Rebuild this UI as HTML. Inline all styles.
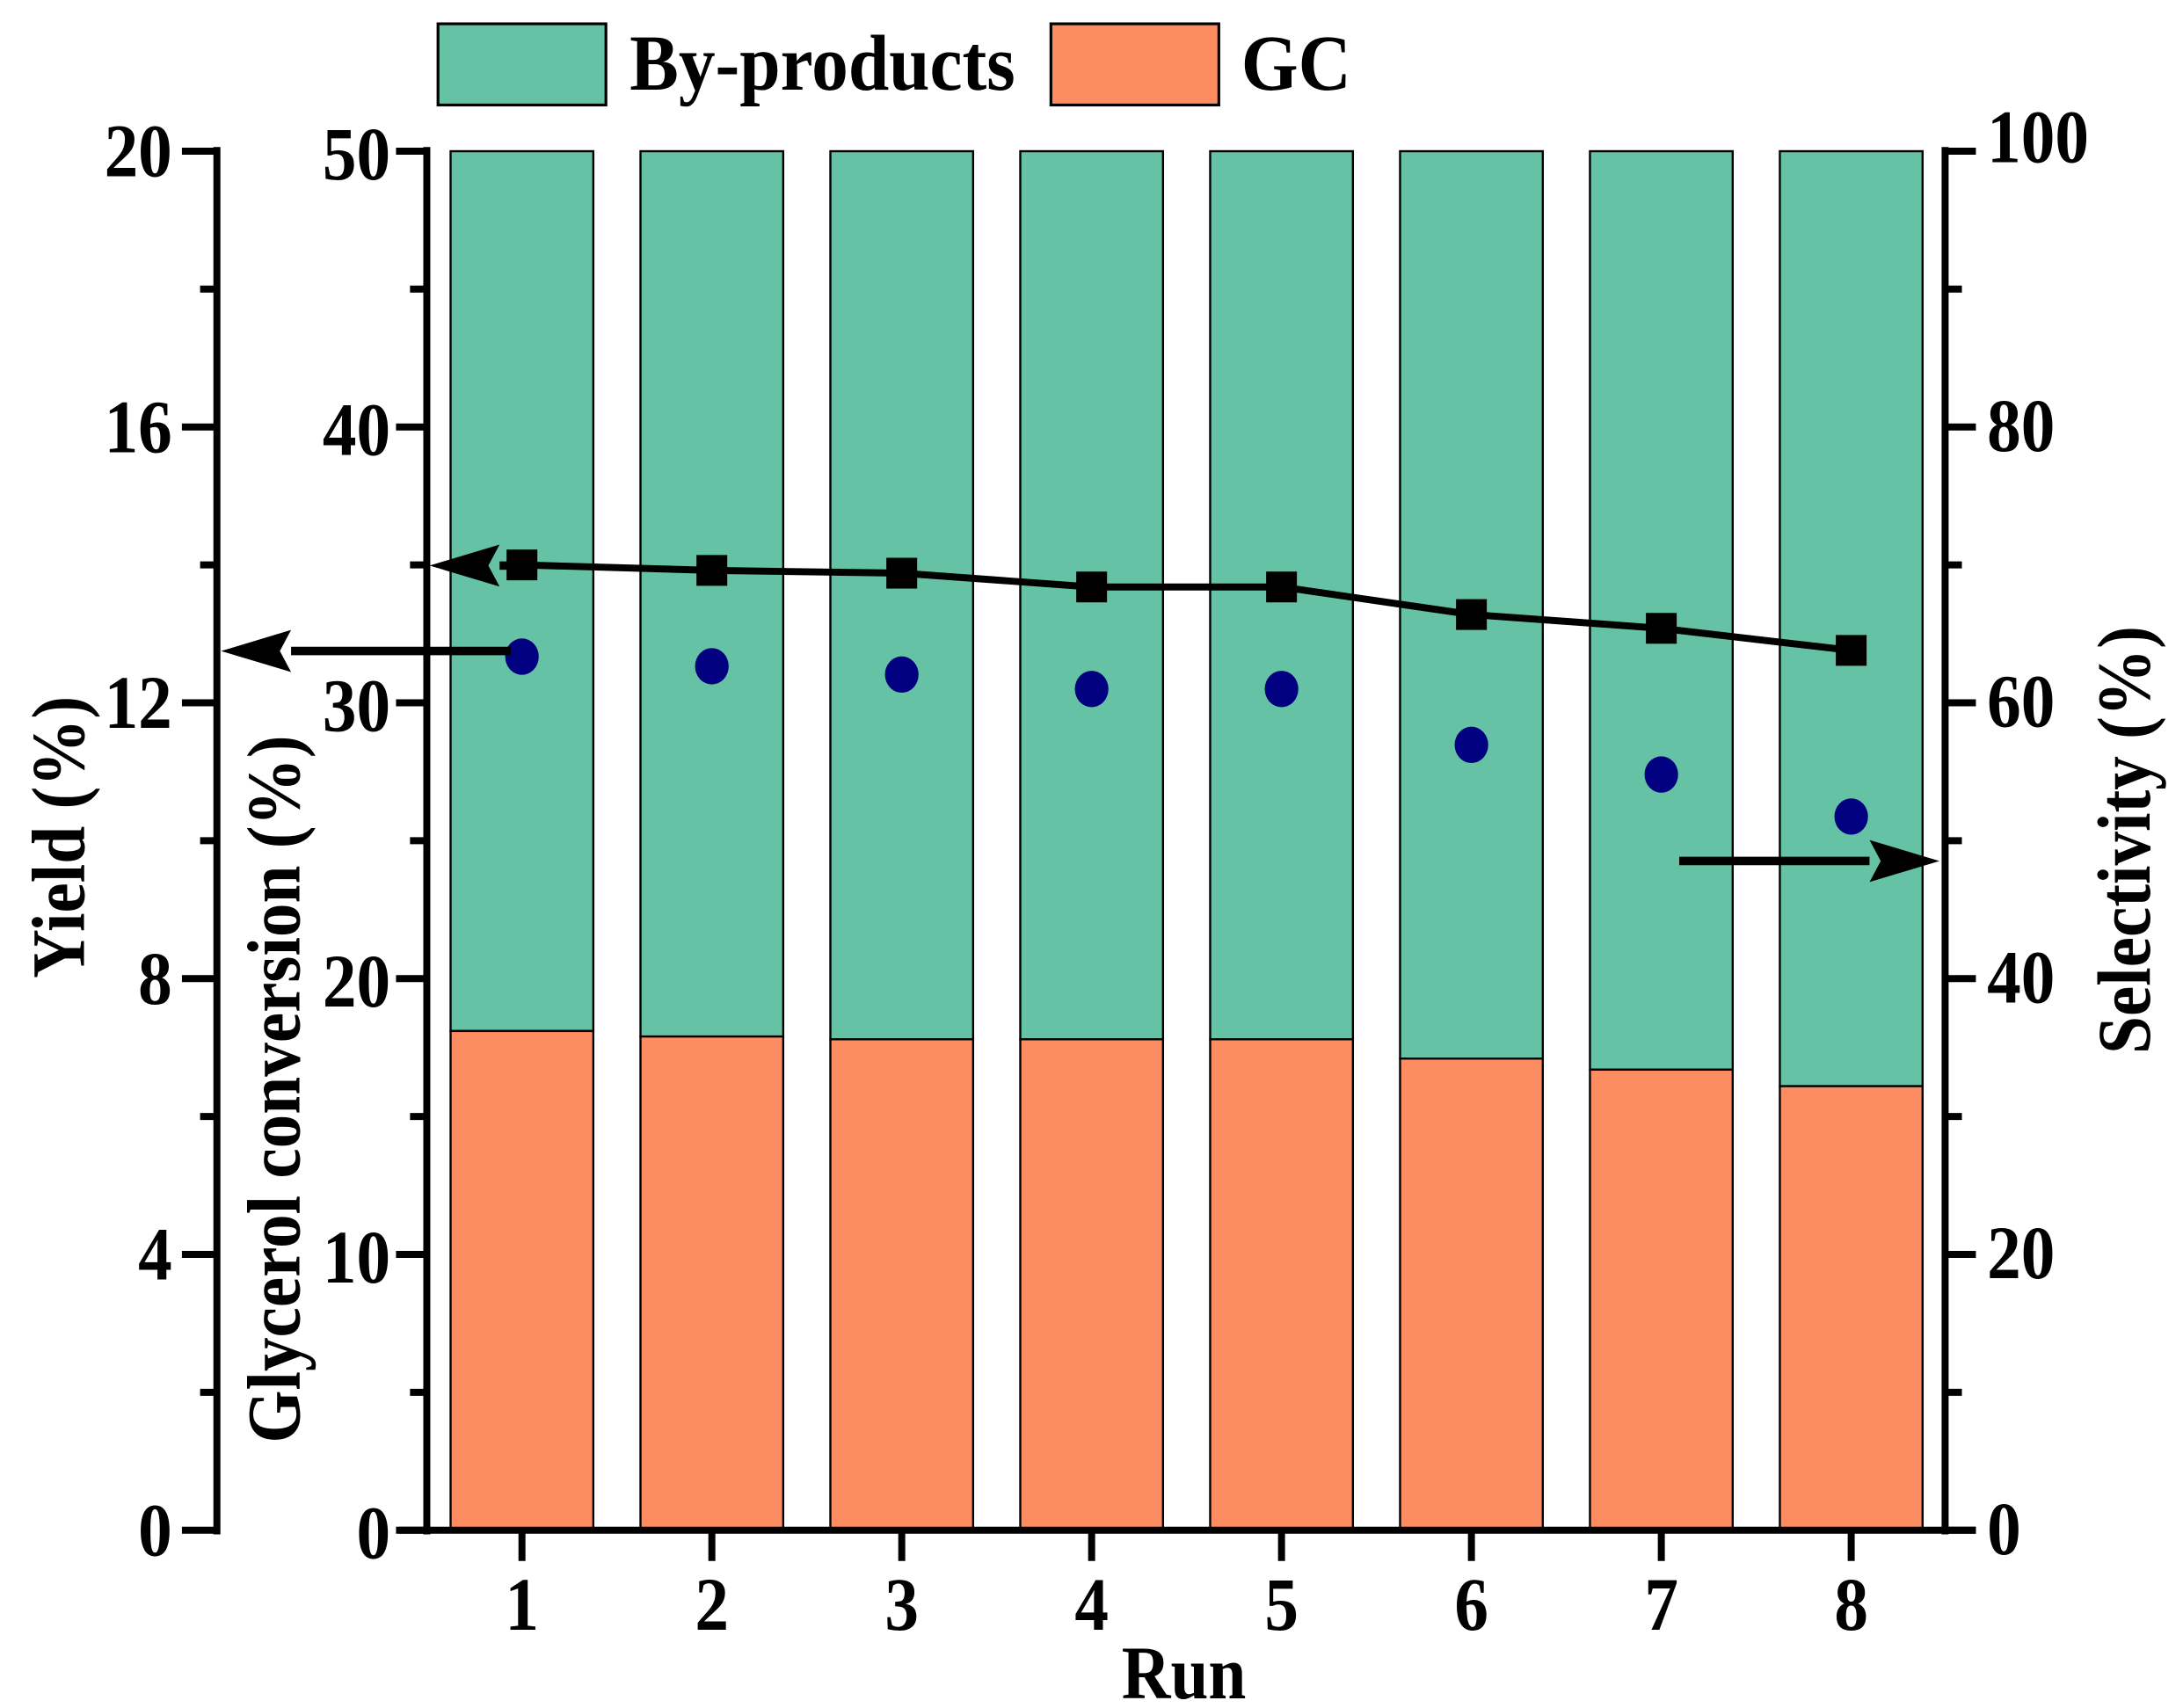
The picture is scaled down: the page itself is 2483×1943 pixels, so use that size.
<!DOCTYPE html>
<html><head><meta charset="utf-8"><style>
html,body{margin:0;padding:0;background:#fff;}
svg{display:block;font-family:"Liberation Serif",serif;font-weight:bold;}
</style></head><body>
<svg id="chart" width="2483" height="1943" viewBox="0 0 1560 1220" preserveAspectRatio="none" xmlns="http://www.w3.org/2000/svg">
<g id="legend">
<rect x="313" y="17" width="120" height="58" fill="#66c2a5" stroke="#000" stroke-width="2"/>
<text x="0" y="0" font-size="54" transform="translate(450,64) scale(0.97,1.05)">By-products</text>
<rect x="751" y="17" width="120" height="58" fill="#fc8d62" stroke="#000" stroke-width="2"/>
<text x="0" y="0" font-size="54" transform="translate(887,64) scale(0.97,1.05)">GC</text>
</g>
<g id="bars"></g>
<g id="axes"></g>
<g id="series"></g>
</svg>
<script>
const runs = [1,2,3,4,5,6,7,8];
const totalConversion = [50,50,50,50,50,50,50,50];
const gcValues = [18.1,17.9,17.8,17.8,17.8,17.1,16.7,16.1];
const lineValues = [35.0,34.8,34.7,34.2,34.2,33.2,32.7,31.9];
const yieldValues = [12.67,12.53,12.41,12.2,12.2,11.39,10.96,10.35];
const yieldTicks = [0,4,8,12,16,20];
const convTicks = [0,10,20,30,40,50];
const selTicks = [0,20,40,60,80,100];

const NS='http://www.w3.org/2000/svg';
const Y0=1093, Y1=108;
const xScale = r => 373 + (r-1)*135.7;
const yConv = v => Y0 - v/50*(Y0-Y1);
const yYield = v => Y0 - v/20*(Y0-Y1);
const ySel = v => Y0 - v/100*(Y0-Y1);
function mk(tag, attrs, parent, txt){const e=document.createElementNS(NS,tag);for(const k in attrs)e.setAttribute(k,attrs[k]);if(txt!==undefined)e.textContent=txt;parent.appendChild(e);return e;}
function txt(x,y,s,anchor,size,parent,rot){
  const tr = rot ? `translate(${x},${y}) rotate(-90) scale(0.97,1.08)` : `translate(${x},${y}) scale(0.97,1.08)`;
  return mk('text',{x:0,y:0,'font-size':size,'text-anchor':anchor,transform:tr},parent,s);
}
const bars=document.getElementById('bars'), axes=document.getElementById('axes'), series=document.getElementById('series');
const BW=102;
runs.forEach((r,i)=>{
  const x=xScale(r)-BW/2;
  let e=mk('rect',{x:x,y:yConv(totalConversion[i]),width:BW,height:yConv(gcValues[i])-yConv(totalConversion[i]),fill:'#66c2a5',stroke:'#000','stroke-width':1.5},bars);
  
  
  e=mk('rect',{x:x,y:yConv(gcValues[i]),width:BW,height:Y0-yConv(gcValues[i]),fill:'#fc8d62',stroke:'#000','stroke-width':1.5},bars);
  
  
});
let a;
a=mk('line',{x1:155,y1:Y1-3,x2:155,y2:Y0+3,stroke:'#000','stroke-width':5},axes);

a=mk('line',{x1:305,y1:Y1-3,x2:305,y2:Y0+3,stroke:'#000','stroke-width':5},axes);

a=mk('line',{x1:1390,y1:Y1-3,x2:1390,y2:Y0+3,stroke:'#000','stroke-width':5},axes);

a=mk('line',{x1:285,y1:Y0,x2:1412,y2:Y0,stroke:'#000','stroke-width':5},axes);

yieldTicks.forEach((t,i)=>{
  const y=yYield(t);
  mk('line',{x1:130,y1:y,x2:155,y2:y,stroke:'#000','stroke-width':5},axes);
  if(i<yieldTicks.length-1){const ym=yYield(t+2);mk('line',{x1:143,y1:ym,x2:155,y2:ym,stroke:'#000','stroke-width':5},axes);}
  const e=txt(123,y+18,String(t),'end',50,axes);
  
});
convTicks.forEach((t,i)=>{
  const y=yConv(t);
  mk('line',{x1:283,y1:y,x2:305,y2:y,stroke:'#000','stroke-width':5},axes);
  if(i<convTicks.length-1){const ym=yConv(t+5);mk('line',{x1:293,y1:ym,x2:305,y2:ym,stroke:'#000','stroke-width':5},axes);}
  const e=txt(279,y+20,String(t),'end',50,axes);
  
});
selTicks.forEach((t,i)=>{
  const y=ySel(t);
  mk('line',{x1:1390,y1:y,x2:1412,y2:y,stroke:'#000','stroke-width':5},axes);
  if(i<selTicks.length-1){const ym=ySel(t+10);mk('line',{x1:1390,y1:ym,x2:1402,y2:ym,stroke:'#000','stroke-width':5},axes);}
  const e=txt(1420,y+(t===100?8:17),String(t),'start',50,axes);
  
});
runs.forEach(r=>{
  const x=xScale(r);
  mk('line',{x1:x,y1:Y0,x2:x,y2:Y0+22,stroke:'#000','stroke-width':5},axes);
  const e=txt(x,1164,String(r),'middle',50,axes);
  
});
let t;
t=txt(846,1213,'Run','middle',50,axes);

t=txt(60,598,'Yield (%)','middle',50,axes,true);

t=txt(214,778,'Glycerol conversion (%)','middle',50,axes,true);

t=txt(1536,600,'Selectivity (%)','middle',50,axes,true);

const pts=runs.map((r,i)=>xScale(r)+','+yConv(lineValues[i])).join(' ');
let l=mk('polyline',{points:pts,fill:'none',stroke:'#000','stroke-width':5},series);

runs.forEach((r,i)=>{
  const e=mk('rect',{x:xScale(r)-11,y:yConv(lineValues[i])-11,width:22,height:22,fill:'#000'},series);
  
});
runs.forEach((r,i)=>{
  const e=mk('ellipse',{cx:xScale(r),cy:yYield(yieldValues[i]),rx:12,ry:13,fill:'#000080'},series);
  
});
function arrow(x1,y,x2,name){
  const g=mk('g',{},series);
  
  const dir=x2<x1?-1:1;
  const hx=x2-dir*50;
  mk('line',{x1:x1,y1:y,x2:hx,y2:y,stroke:'#000','stroke-width':6},g);
  mk('polygon',{points:`${x2},${y} ${hx},${y-15} ${hx+dir*8},${y} ${hx},${y+15}`,fill:'#000'},g);
}
arrow(365,404,307,'arrow-to-conversion-axis');
arrow(365,465,158,'arrow-to-yield-axis');
arrow(1200,615,1386,'arrow-to-selectivity-axis');
</script>
</body></html>
